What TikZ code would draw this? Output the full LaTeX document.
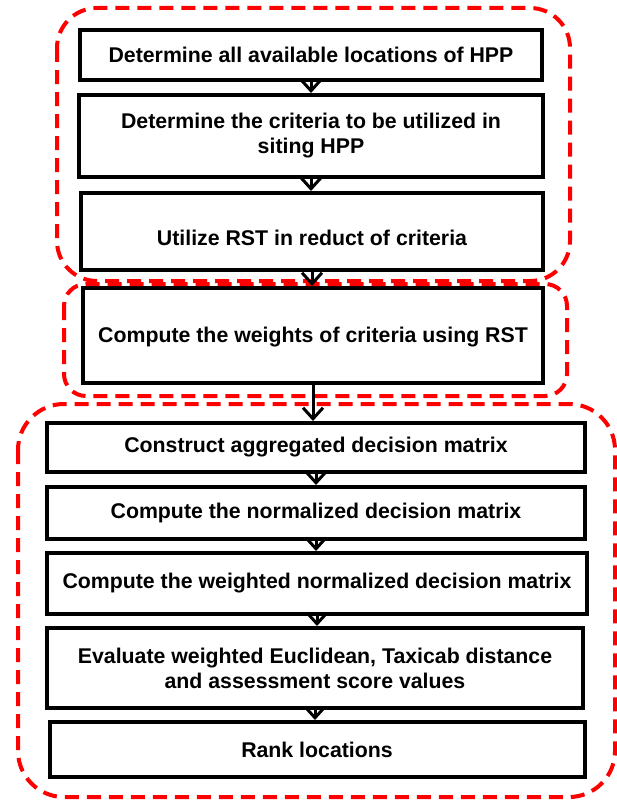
\documentclass[tikz,border=0pt]{standalone}
\usepackage{fontspec}
\setmainfont{Liberation Sans}
\usetikzlibrary{arrows.meta}
\tikzset{
	stepbox/.style={draw,line width=4pt,fill=white,inner sep=0pt,align=center,font=\fontsize{21.3}{25}\selectfont\bfseries},
	grp/.style={draw=red,line width=4pt,dash pattern=on 14pt off 8pt},
	flow/.style={line width=3pt,-{Straight Barb[length=11pt,width=20pt,line width=3pt]}}
}
\begin{document}
\begin{tikzpicture}[x=1pt,y=-1pt]
					\useasboundingbox (0,0) rectangle (617,800);
					
					% steps
					\node[stepbox,minimum width=462pt,minimum height=50pt] (b1) at (311,55) {Determine all available locations of HPP};
					\node[stepbox,minimum width=464pt,minimum height=82pt] (b2) at (311,136) {Determine the criteria to be utilized in\\siting HPP};
					\node[stepbox,minimum width=462pt,minimum height=77pt] (b3) at (312,231.5) {\raisebox{-6pt}[\height][\depth]{Utilize RST in reduct of criteria}};
					\node[stepbox,minimum width=460pt,minimum height=95pt] (b4) at (313,335.5) {\raisebox{-2pt}[\height][\depth]{Compute the weights of criteria using RST}};
					\node[stepbox,minimum width=538pt,minimum height=49pt] (b5) at (316,447.5) {Construct aggregated decision matrix};
					\node[stepbox,minimum width=538pt,minimum height=52pt] (b6) at (316,513) {Compute the normalized decision matrix};
					\node[stepbox,minimum width=540pt,minimum height=61pt] (b7) at (317,583.5) {Compute the weighted normalized decision matrix};
					\node[stepbox,minimum width=536pt,minimum height=80pt] (b8) at (315,668) {Evaluate weighted Euclidean, Taxicab distance\\and assessment score values};
					\node[stepbox,minimum width=535pt,minimum height=55pt] (b9) at (317,749.5) {Rank locations};
					
					% groups
					\draw[grp,rounded corners=40pt] (57,8) rectangle (570,281);
					\draw[grp,rounded corners=22pt] (64,284) rectangle (567,396);
					\draw[grp,rounded corners=46pt] (18,404) rectangle (615,797);
					
					\foreach \a/\b in {b1/b2,b2/b3,b3/b4,b4/b5,b5/b6,b6/b7,b7/b8,b8/b9}{
						\draw[flow] (\a.south) -- (\a.south |- \b.north);
					}
\end{tikzpicture}
\end{document}
